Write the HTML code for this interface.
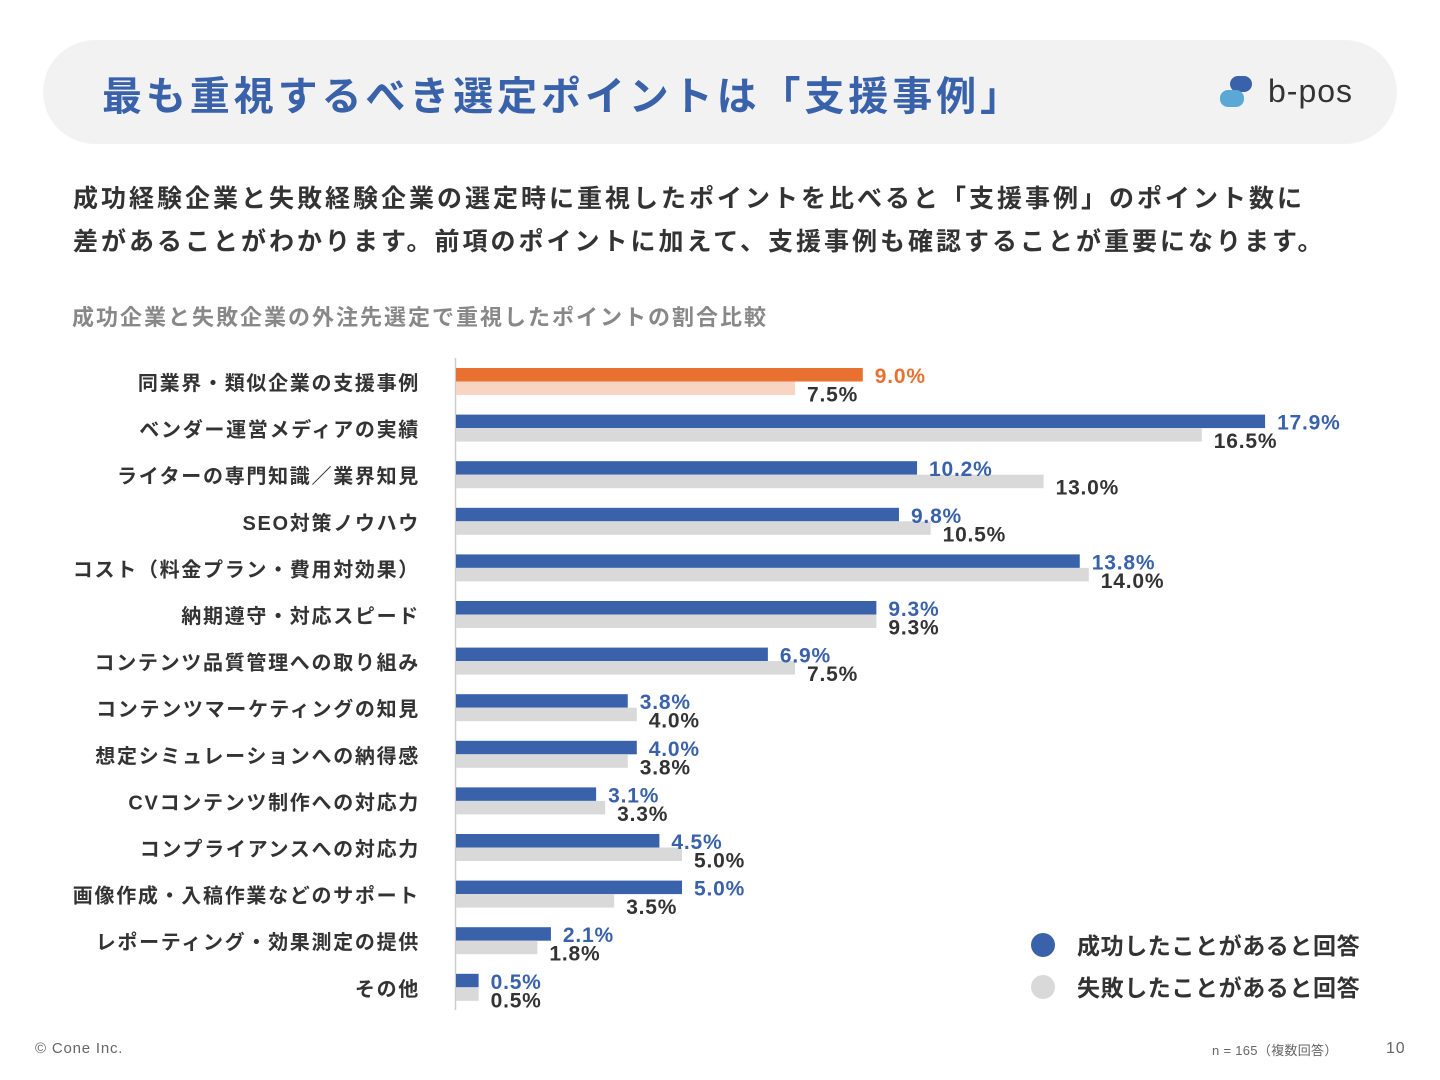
<!DOCTYPE html>
<html><head><meta charset="utf-8">
<style>
body{margin:0;width:1440px;height:1080px;background:#fff;font-family:"Liberation Sans","Noto Sans CJK JP",sans-serif;position:relative;overflow:hidden}
.hdr{position:absolute;left:43px;top:40px;width:1354px;height:104px;background:#f2f2f2;border-radius:52px}
.title{position:absolute;left:102px;top:64px;font-size:40px;font-weight:bold;color:#3a62aa;letter-spacing:3.9px;white-space:nowrap}
.logo{position:absolute;left:1218px;top:74px}
.desc{position:absolute;left:73px;top:178px;font-size:25px;font-weight:bold;color:#333;line-height:43px;letter-spacing:3px;white-space:nowrap}
.sub{position:absolute;left:72px;top:300px;font-size:22px;font-weight:bold;color:#888;letter-spacing:2px;white-space:nowrap}
.foot{position:absolute;font-size:15px;color:#666;letter-spacing:0.8px}
</style></head><body>
<div class="hdr"></div>
<div class="title">最も重視するべき選定ポイントは「支援事例」</div>
<svg class="logo" width="150" height="40">
<rect x="12" y="2" width="22" height="16" rx="8" fill="#3a62aa"/>
<rect x="2" y="16" width="24" height="17" rx="8" fill="#5aa8d6"/>
<text x="50" y="28" font-size="32" letter-spacing="1" font-family="Liberation Sans,sans-serif" fill="#333">b-pos</text>
</svg>
<div class="desc">成功経験企業と失敗経験企業の選定時に重視したポイントを比べると「支援事例」のポイント数に<br>差があることがわかります。前項のポイントに加えて、支援事例も確認することが重要になります。</div>
<div class="sub">成功企業と失敗企業の外注先選定で重視したポイントの割合比較</div>
<svg id="chart" width="1440" height="1080" style="position:absolute;left:0;top:0"></svg>
<div class="foot" style="left:35px;top:1040px">© Cone Inc.</div>
<div class="foot" style="left:1212px;top:1040px;font-size:13px;letter-spacing:0.3px">n = 165（複数回答）</div>
<div class="foot" style="left:1386px;top:1040px;font-size:16px">10</div>
<script>
const categories=["同業界・類似企業の支援事例","ベンダー運営メディアの実績","ライターの専門知識／業界知見","SEO対策ノウハウ","コスト（料金プラン・費用対効果）","納期遵守・対応スピード","コンテンツ品質管理への取り組み","コンテンツマーケティングの知見","想定シミュレーションへの納得感","CVコンテンツ制作への対応力","コンプライアンスへの対応力","画像作成・入稿作業などのサポート","レポーティング・効果測定の提供","その他"];
const successVals=[9.0,17.9,10.2,9.8,13.8,9.3,6.9,3.8,4.0,3.1,4.5,5.0,2.1,0.5];
const failVals=[7.5,16.5,13.0,10.5,14.0,9.3,7.5,4.0,3.8,3.3,5.0,3.5,1.8,0.5];
const legendLabels=["成功したことがあると回答","失敗したことがあると回答"];
const NS="http://www.w3.org/2000/svg";
const svg=document.getElementById('chart');
const x0=456,scale=45.2,y0=368,step=46.6,bh=13.5;
const xPos=v=>x0+v*scale;
const yPos=i=>y0+i*step;
function mk(t,a){const e=document.createElementNS(NS,t);for(const k in a)e.setAttribute(k,a[k]);svg.appendChild(e);return e;}
const ax=mk('line',{x1:455.5,x2:455.5,y1:358,y2:1010,stroke:'#ccc','stroke-width':1.5});


categories.forEach((c,i)=>{
  const y=yPos(i);
  const lab=mk('text',{x:420,y:y+22,'text-anchor':'end','font-size':20,fill:'#333','font-weight':'bold','letter-spacing':1.7});
  lab.textContent=c;
  
  
  const hl=i===0;
  const b1=mk('rect',{x:x0,y:y,width:xPos(successVals[i])-x0,height:bh,fill:hl?'#e87131':'#3a62aa'});
  
  
  const b2=mk('rect',{x:x0,y:y+bh,width:xPos(failVals[i])-x0,height:bh,fill:hl?'#f8d5c3':'#d9d9d9'});
  
  
  const t1=mk('text',{x:xPos(successVals[i])+12,y:y+15,'font-size':21,fill:hl?'#e87131':'#3a62aa','font-weight':'bold','letter-spacing':0.8});
  t1.textContent=successVals[i].toFixed(1)+'%';
  
  
  const t2=mk('text',{x:xPos(failVals[i])+12,y:y+bh+20,'font-size':21,fill:'#333','font-weight':'bold','letter-spacing':0.8});
  t2.textContent=failVals[i].toFixed(1)+'%';
  
  
});
legendLabels.forEach((l,i)=>{
  const cy=945+i*42;
  const d=mk('circle',{cx:1043,cy:cy,r:12,fill:i?'#d9d9d9':'#3a62aa'});
  
  
  const t=mk('text',{x:1077,y:cy+9,'font-size':23,fill:'#333','font-weight':'bold','letter-spacing':0.6});
  t.textContent=l;
  
  
});
</script>
</body></html>
